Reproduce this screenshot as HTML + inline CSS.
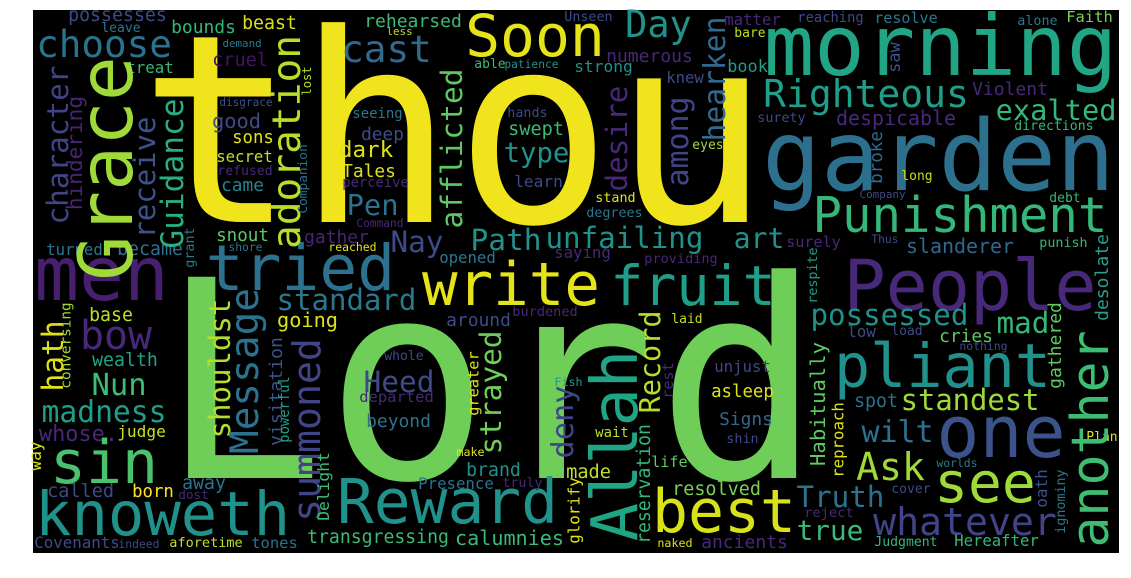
<!DOCTYPE html>
<html><head><meta charset="utf-8">
<style>
html,body{margin:0;padding:0;background:#fff;width:1131px;height:578px;overflow:hidden}
svg text{font-family:"DejaVu Sans Mono","Liberation Mono",monospace}
</style></head>
<body>
<svg id="cloud" width="1131" height="578" viewBox="0 0 1131 578" xmlns="http://www.w3.org/2000/svg">
<rect x="33" y="10" width="1086" height="543" fill="#000"/>
</svg>
<script>
// horizontal words: text, inkLeft, inkRight, baseline, colour
const hWords = [
["Lord",173,808,478,"#6ece58"],["thou",152,757,222,"#f0e51c"],
["possesses",69,166,21,"#3e4a89"],["leave",102,140,32,"#2a788e"],["bounds",172,235,33,"#35b779"],
["beast",243,296,29,"#d8e219"],["rehearsed",365,461,27,"#3aba76"],["choose",38,170,57,"#2c728e"],
["cast",343,430,62,"#31688e"],["demand",223,261,47,"#2a788e"],["cruel",213,267,66,"#471164"],
["treat",127,173,73,"#35b779"],["disgrace",220,272,106,"#3b528b"],["good",213,260,128,"#3e4a89"],
["sons",233,273,143,"#dde318"],["secret",217,272,162,"#c2df23"],["refused",218,272,175,"#482878"],
["came",222,263,191,"#25848e"],["snout",217,268,241,"#5ec962"],["turned",47,102,255,"#2a788e"],
["became",118,182,255,"#2c728e"],["shore",229,262,251,"#2a788e"],["reached",329,376,251,"#e5e419"],
["Command",357,403,227,"#482878"],["gather",305,368,243,"#482475"],["men",38,165,300,"#481f70"],
["tried",209,392,290,"#2c728e"],["seeing",353,402,118,"#2a788e"],["deep",362,403,140,"#3e4a89"],
["dark",340,392,157,"#dde318"],["Tales",343,395,177,"#dde318"],["perceive",343,408,187,"#482878"],
["Pen",348,397,215,"#2c728e"],["base",90,132,321,"#c2df23"],["bow",82,150,349,"#482878"],
["wealth",93,157,366,"#20a386"],["Nun",93,145,395,"#3dbc74"],["madness",43,165,422,"#1f9e89"],
["whose.",40,117,441,"#482878"],["judge",118,165,437,"#c8e020"],["sin",53,155,483,"#4ac16d"],
["called",48,113,497,"#3e4a89"],["born",133,173,497,"#fde725"],["away",183,225,489,"#2c728e"],
["dost",179,208,499,"#482878"],["knoweth",38,287,535,"#21918c"],["Covenants",35,119,548,"#3e4a89"],
["indeed",119,159,548,"#3e4a89"],["aforetime",170,242,547,"#c2df23"],["tones",252,297,548,"#2c728e"],
["transgressing",308,448,543,"#3aba76"],["standard",278,415,310,"#2a788e"],["going",278,337,327,"#d8e219"],
["Heed",365,433,392,"#3e4a89"],["departed",360,433,402,"#482878"],["beyond",367,430,427,"#2c728e"],
["whole",385,423,360,"#3e4a89"],["Reward",340,555,523,"#21918c"],["write",425,597,305,"#e5e419"],
["fruit",613,773,305,"#1f9e89"],["around",447,510,326,"#3e4a89"],["burdened",513,577,316,"#482878"],
["laid",672,702,323,"#c2df23"],["Fish",555,582,386,"#1f9e89"],["wait",596,628,437,"#c2df23"],
["make",457,484,456,"#dde318"],["brand",467,520,476,"#21918c"],["made",567,610,478,"#c2df23"],
["Presence",419,493,489,"#2c728e"],["truly",503,542,487,"#482878"],["life",652,687,467,"#5ec962"],
["resolved",673,760,495,"#7ad151"],["best",655,793,532,"#d8e219"],["calumnies",456,563,545,"#3aba76"],
["naked",658,692,547,"#dde318"],["ancients",702,787,548,"#482878"],["unjust",715,770,372,"#414487"],
["asleep",712,773,397,"#dde318"],["Signs",720,772,425,"#31688e"],["shin",727,758,443,"#3e4a89"],
["Soon",468,602,56,"#e5e419"],["Day",627,690,37,"#21918c"],["less",387,412,35,"#b5de2b"],
["Unseen",565,612,21,"#3e4a89"],["numerous",607,692,62,"#482878"],["matter",725,780,25,"#482878"],
["bare",735,765,37,"#c2df23"],["able",475,505,68,"#3aba76"],["patience",505,558,68,"#21918c"],
["strong",575,632,72,"#21918c"],["book",728,767,72,"#1f9e89"],["knew",667,703,83,"#3e4a89"],
["hands",508,547,117,"#3e4a89"],["swept",509,563,135,"#3aba76"],["type",505,568,162,"#21918c"],
["eyes",693,723,149,"#a0da39"],["learn",515,562,187,"#3e4a89"],["stand",596,635,202,"#dde318"],
["degrees",587,642,217,"#2a788e"],["Nay",392,442,252,"#3e4a89"],["Path",472,540,250,"#21918c"],
["unfailing",547,702,248,"#21918c"],["art",735,783,248,"#21918c"],["opened",440,495,263,"#2a788e"],
["saying",555,610,258,"#482878"],["providing",645,717,263,"#482878"],["reaching",798,863,22,"#3e4a89"],
["resolve",875,937,23,"#2a788e"],["morning",768,1113,75,"#21a585"],["alone",1018,1057,25,"#2a788e"],
["Faith",1067,1112,22,"#7ad151"],["Righteous",765,967,107,"#1f9e89"],["Violent",973,1047,95,"#482878"],
["exalted",997,1115,120,"#35b779"],["despicable",837,955,125,"#482878"],["surety",758,805,122,"#3e4a89"],
["directions",1015,1093,130,"#35b779"],["garden",767,1110,190,"#2d708e"],["long",902,932,180,"#c2df23"],
["Company",860,905,198,"#3e4a89"],["debt",1050,1080,202,"#35b779"],["Punishment",815,1105,232,"#35b779"],
["surely",787,840,247,"#482878"],["Thus",872,898,243,"#3e4a89"],["slanderer",907,1013,253,"#31688e"],
["punish",1040,1087,247,"#35b779"],["People",847,1093,310,"#482878"],["possessed",812,967,325,"#21918c"],
["mad",998,1048,333,"#35b779"],["low",848,875,337,"#3e4a89"],["load",892,922,335,"#3e4a89"],
["cries",940,992,342,"#5ec962"],["nothing",960,1007,350,"#3e4a89"],["pliant",837,1048,387,"#21918c"],
["spot",855,897,407,"#2c728e"],["standest",902,1038,410,"#a0da39"],["wilt",863,932,442,"#2c728e"],
["one",940,1062,457,"#3b528b"],["Plan",1087,1117,441,"#dde318"],["Ask",858,923,480,"#a0da39"],
["worlds",937,977,467,"#2a788e"],["see",937,1033,502,"#a0da39"],["cover",892,930,493,"#3e4a89"],
["Truth",798,883,507,"#2c728e"],["reject",805,853,517,"#482878"],["true",798,862,540,"#3aba76"],
["whatever",875,1055,535,"#414487"],["Judgment",875,937,546,"#35b779"],["Hereafter",955,1038,546,"#35b779"]
];
// vertical words (read bottom-to-top): text, inkTop, inkBottom, rightEdge, colour
const vWords = [
["Grace",60,277,132,"#a0da39"],["character",67,223,68,"#414487"],["hindering",97,209,87,"#482475"],
["receive",118,237,155,"#3b528b"],["Guidance",100,247,183,"#29af7f"],["adoration",37,247,300,"#b8de29"],
["lost",67,95,311,"#b5de2b"],["Companion",145,213,310,"#2c728e"],["grant",228,267,197,"#2a788e"],
["afflicted",70,227,462,"#5ec962"],["desire",87,190,627,"#482878"],["among",98,185,695,"#414487"],
["hearken",18,140,725,"#31688e"],["saw",43,72,900,"#3b528b"],["broke",132,183,882,"#31688e"],
["respite",248,303,820,"#1f9e89"],["desolate",235,320,1108,"#2a9d8e"],["conversing",303,388,74,"#a0da39"],
["hath",322,390,63,"#dde318"],["way",442,470,45,"#dde318"],["shouldst",300,437,230,"#b5de2b"],
["Message",290,452,267,"#2c728e"],["summoned",340,520,320,"#414487"],["visitation",338,445,282,"#3b528b"],
["powerful",377,442,292,"#1f9e89"],["Delight",453,520,333,"#3dbc74"],["strayed",332,453,508,"#6ece58"],
["greater",352,415,482,"#dde318"],["deny",387,457,580,"#414487"],["Allah",353,538,637,"#20a486"],
["Record",312,412,660,"#b5de2b"],["rest",363,398,673,"#482878"],["glorify",478,543,583,"#dde318"],
["reservation",425,543,650,"#35b779"],["gathered",303,388,1065,"#5ec962"],["another",333,545,1108,"#3dbc74"],
["Habitually",343,465,830,"#5ec962"],["reproach",403,477,847,"#dde318"],["oath",470,507,1047,"#3b528b"],
["ignominy",470,533,1068,"#2a788e"]
];
const NS = "http://www.w3.org/2000/svg";
const svg = document.getElementById("cloud");
function sizeFor(t, len){ return len / (0.6 * t.length - 0.1); }
function makeText(t, fs, len, col){
  const el = document.createElementNS(NS, "text");
  el.setAttribute("font-size", fs.toFixed(1));
  el.setAttribute("fill", col);
  el.setAttribute("textLength", (len + 0.1 * fs).toFixed(1));
  el.setAttribute("lengthAdjust", "spacingAndGlyphs");
  el.textContent = t;
  return el;
}
hWords.forEach(w => {
  const [t, x0, x1, by, col] = w;
  const fs = sizeFor(t, x1 - x0);
  const el = makeText(t, fs, x1 - x0, col);
  el.setAttribute("x", (x0 - 0.05 * fs).toFixed(1));
  el.setAttribute("y", by);
  
  
  svg.appendChild(el);
});
vWords.forEach(w => {
  const [t, y0, y1, xr, col] = w;
  const fs = sizeFor(t, y1 - y0);
  const bx = xr - (/[gjpqy]/.test(t) ? 0.23 * fs : 0);
  const el = makeText(t, fs, y1 - y0, col);
  el.setAttribute("x", 0);
  el.setAttribute("y", 0);
  el.setAttribute("transform", "translate(" + bx.toFixed(1) + "," + (y1 + 0.05 * fs).toFixed(1) + ") rotate(-90)");
  
  
  svg.appendChild(el);
});
</script>
</body></html>
